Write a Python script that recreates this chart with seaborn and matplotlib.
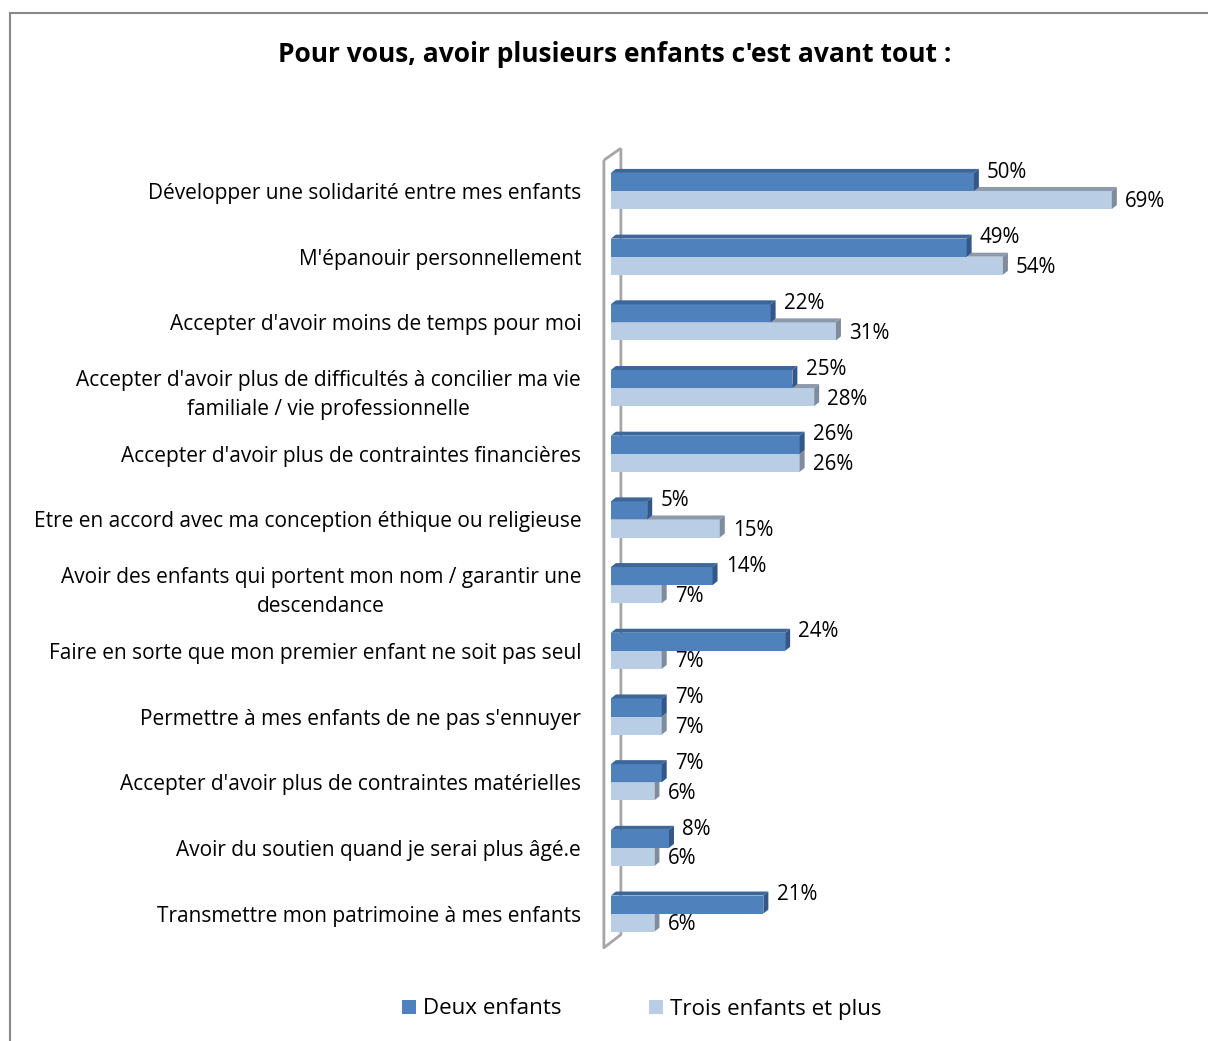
import matplotlib
matplotlib.use("Agg")
import matplotlib.pyplot as plt
from matplotlib.patches import Polygon, Patch, Rectangle
import pandas as pd
import seaborn as sns

categories = [
    "Développer une solidarité entre mes enfants",
    "M'épanouir personnellement",
    "Accepter d'avoir moins de temps pour moi",
    "Accepter d'avoir plus de difficultés à concilier ma vie\nfamiliale / vie professionnelle",
    "Accepter d'avoir plus de contraintes financières",
    "Etre en accord avec ma conception éthique ou religieuse",
    "Avoir des enfants qui portent mon nom / garantir une\ndescendance",
    "Faire en sorte que mon premier enfant ne soit pas seul",
    "Permettre à mes enfants de ne pas s'ennuyer",
    "Accepter d'avoir plus de contraintes matérielles",
    "Avoir du soutien quand je serai plus âgé.e",
    "Transmettre mon patrimoine à mes enfants",
]
deux_enfants = [50, 49, 22, 25, 26, 5, 14, 24, 7, 7, 8, 21]
trois_enfants_et_plus = [69, 54, 31, 28, 26, 15, 7, 7, 7, 6, 6, 6]
series_names = ["Deux enfants", "Trois enfants et plus"]
title = "Pour vous, avoir plusieurs enfants c'est avant tout :"

front_colors = ["#4F81BD", "#B9CDE5"]
top_colors = ["#3D6699", "#8C9AAC"]
side_colors = ["#34578A", "#7F8C9E"]

df = pd.DataFrame({
    "item": categories * 2,
    "value": deux_enfants + trois_enfants_et_plus,
    "group": [series_names[0]] * len(categories) + [series_names[1]] * len(categories),
})

sns.set_style("white")
plt.rcParams["font.family"] = ["Open Sans", "DejaVu Sans"]
plt.rcParams["text.color"] = "black"
plt.rcParams["ytick.color"] = "black"
plt.rcParams["ytick.labelcolor"] = "black"

W, H = 1208, 1041
fig = plt.figure(figsize=(W / 100, H / 100), dpi=100)

# outer frame
fig.patches.append(Rectangle((10 / W, -0.1), 1.2, 1.1 - 13 / H, transform=fig.transFigure,
                             fill=False, edgecolor="#888888", linewidth=1.5))

ax_left, ax_right, ax_top, ax_bot = 600, 1150, 145, 953
ax = fig.add_axes([ax_left / W, 1 - ax_bot / H, (ax_right - ax_left) / W, (ax_bot - ax_top) / H])

sns.barplot(data=df, y="item", x="value", hue="group", hue_order=series_names,
            order=categories, orient="h", palette=front_colors, saturation=1,
            width=0.55, dodge=True, legend=False, ax=ax, linewidth=0)

px_per_unit = 7.26
xmin = -1.5
xmax = xmin + (ax_right - ax_left) / px_per_unit
ax.set_xlim(xmin, xmax)
ax.set_ylim(11.6, -0.7)

# 3D depth of bars: top face and right side face
dx = 5 / px_per_unit
dy = 4 / 65.7
for k, cont in enumerate(ax.containers):
    z = 3 - k
    for bar in cont:
        bar.set_zorder(z)
        x0, y0 = bar.get_x(), bar.get_y()
        w, h = bar.get_width(), bar.get_height()
        ytop, ybot = y0, y0 + h
        x1 = x0 + w
        ax.add_patch(Polygon([(x0, ytop), (x0 + dx, ytop - dy), (x1 + dx, ytop - dy), (x1, ytop)],
                             closed=True, facecolor=top_colors[k], edgecolor="none", zorder=z))
        ax.add_patch(Polygon([(x1, ytop), (x1 + dx, ytop - dy), (x1 + dx, ybot - dy), (x1, ybot)],
                             closed=True, facecolor=side_colors[k], edgecolor="none", zorder=z))
    label_dy = -0.15 if k == 0 else 0.03
    for bar, v in zip(cont, cont.datavalues):
        ax.annotate(f"{v:.0f}%", (bar.get_x() + bar.get_width(), bar.get_y() + bar.get_height() / 2 + label_dy),
                    xytext=(9.5, 0), textcoords="offset points", ha="left", va="center",
                    fontsize=14.8, color="black", zorder=5)

# left wall of the 3D chart
wall_x0 = -7 / px_per_unit
wall_x1 = 10 / px_per_unit
wall_kw = dict(color="#A6A6A6", linewidth=2, clip_on=False, zorder=0.5, solid_capstyle="butt")
ax.plot([wall_x0, wall_x0, wall_x1, wall_x1], [-0.47, 11.52, 11.32, -0.65], **wall_kw)
ax.plot([wall_x0, wall_x1], [-0.47, -0.65], **wall_kw)

for s in ax.spines.values():
    s.set_visible(False)
ax.set_xticks([])
ax.set_xlabel("")
ax.set_ylabel("")
ax.tick_params(axis="y", length=0, pad=13.5, labelsize=15, labelcolor="black")
for lab in ax.get_yticklabels():
    lab.set_multialignment("center")
    lab.set_linespacing(1.5)

fig.text(615 / W, 1 - 55 / H, title, ha="center", va="center", fontsize=19,
         fontweight="bold", color="black")

handles = [Patch(facecolor=c, edgecolor="none") for c in front_colors]
fig.legend(handles, series_names, loc="center", bbox_to_anchor=(642 / W, 1 - 1009 / H),
           ncol=2, frameon=False, fontsize=16.1, handlelength=0.6, handleheight=0.6,
           handletextpad=0.35, columnspacing=3.9, labelcolor="black")

fig.savefig("out.png", dpi=100)
